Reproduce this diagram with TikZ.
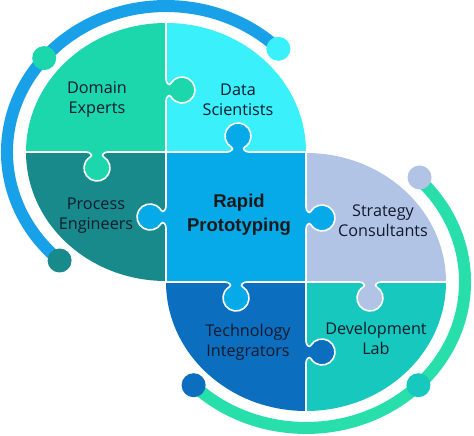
\documentclass[tikz,border=0pt]{standalone}
\usepackage{fontspec}
\setmainfont{Open Sans}
\newfontfamily\boldsans{Liberation Sans}
\definecolor{cDomain}{RGB}{28,214,172}
\definecolor{cData}{RGB}{58,240,250}
\definecolor{cProcess}{RGB}{24,138,140}
\definecolor{cRapid}{RGB}{6,170,232}
\definecolor{cStrategy}{RGB}{178,196,230}
\definecolor{cTech}{RGB}{12,110,190}
\definecolor{cDev}{RGB}{22,200,190}
\definecolor{arcBlue}{RGB}{24,160,232}
\definecolor{arcGreen}{RGB}{40,222,170}
\definecolor{txt}{RGB}{16,26,44}
\newcommand\jigknob[4]{%
  \begin{scope}[shift={(#1,#2)},rotate=#3]
    \fill[#4] (-11,-3) -- (-11,0) .. controls (-7,0) and (-3.9,3.24) .. (-6.5,4.74)
      arc[start angle=240,end angle=-60,radius=13]
      .. controls (3.9,3.24) and (7,0) .. (11,0) -- (11,-3) -- cycle;
    \draw[white,line width=1.6] (-11,0) .. controls (-7,0) and (-3.9,3.24) .. (-6.5,4.74)
      arc[start angle=240,end angle=-60,radius=13]
      .. controls (3.9,3.24) and (7,0) .. (11,0);
  \end{scope}}
\begin{document}
\begin{tikzpicture}[x=1pt,y=1pt,
  lbl/.style={font=\fontsize{16.2}{20}\selectfont, text=txt, align=center, inner sep=0},
  bigl/.style={font=\boldsans\bfseries\fontsize{18.5}{24}\selectfont, text=black!90, align=center, inner sep=0},
  dot/.style={circle, minimum size=24, inner sep=0},
  band/.style={line width=12}]
\useasboundingbox (0,0) rectangle (474,436);
% arcs
\draw[band, arcBlue] (278.4,387.2) arc[start angle=45,end angle=228,x radius=159,y radius=146];
\draw[band, arcGreen] (193.6,50.8) arc[start angle=225,end angle=405,x radius=159,y radius=146];
\node[dot, fill=cData] (b1) at (278.4,387.2) {};
\node[dot, fill=cDomain] (b2) at (44.2,377.9) {};
\node[dot, fill=cProcess] (b3) at (59.6,175.5) {};
\node[dot, fill=cStrategy] (g1) at (419.5,258.5) {};
\node[dot, fill=cDev] (g2) at (418.4,50.8) {};
\node[dot, fill=cTech] (g3) at (193.6,50.8) {};
% pieces
\fill[cDomain] (166,284) -- (26,284) arc[start angle=180,end angle=90,x radius=140,y radius=129] -- cycle;
\fill[cData] (166,284) -- (166,413) arc[start angle=90,end angle=0,x radius=140,y radius=129] -- cycle;
\fill[cProcess] (166,284) -- (166,155) arc[start angle=270,end angle=180,x radius=140,y radius=129] -- cycle;
\fill[cRapid] (166,154) rectangle (306,284);
\fill[cStrategy] (306,154) -- (306,283) arc[start angle=90,end angle=0,x radius=140,y radius=129] -- cycle;
\fill[cTech] (306,154) -- (166,154) arc[start angle=180,end angle=270,x radius=140,y radius=129] -- cycle;
\fill[cDev] (306,154) -- (306,25) arc[start angle=270,end angle=360,x radius=140,y radius=129] -- cycle;
% white seams
\draw[white,line width=1.6] (166,414) -- (166,153) (306,285) -- (306,24)
  (25,284) -- (306,284) (166,154) -- (447,154);
% knobs
\jigknob{166}{346}{-90}{cDomain}
\jigknob{238}{284}{0}{cRapid}
\jigknob{97}{284}{180}{cDomain}
\jigknob{166}{219}{90}{cRapid}
\jigknob{306}{218}{-90}{cRapid}
\jigknob{236}{154}{180}{cRapid}
\jigknob{370}{154}{180}{cStrategy}
\jigknob{306}{84}{-90}{cTech}
% labels
\node[lbl] (tDomain) at (97,336) {Domain\\Experts};
\node[lbl] (tData) at (238,336) {Data\\Scientists};
\node[lbl] (tProcess) at (96,220) {Process\\Engineers};
\node[bigl] (tRapid) at (239,221) {Rapid\\Prototyping};
\node[lbl] (tStrategy) at (383,215) {Strategy\\Consultants};
\node[lbl] (tTech) at (248,94) {Technology\\Integrators};
\node[lbl] (tDev) at (376,98) {Development\\Lab};
\end{tikzpicture}
\end{document}
